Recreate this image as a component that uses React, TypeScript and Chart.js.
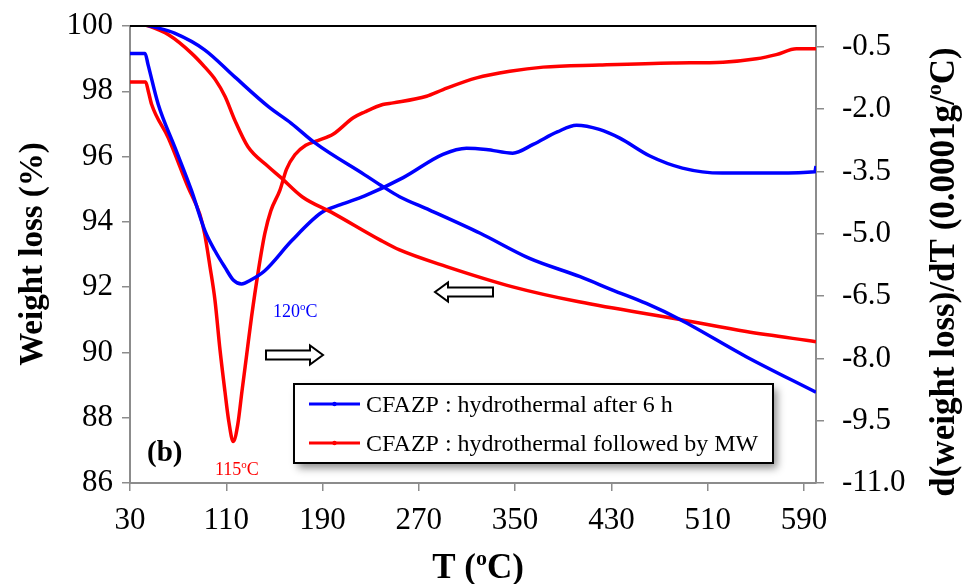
import { useEffect, useRef } from "react";
import { Chart, registerables } from "chart.js";

Chart.register(...registerables);

// ---------- data ----------
const xTickValues = [30, 110, 190, 270, 350, 430, 510, 590];
const leftTickValues = [86, 88, 90, 92, 94, 96, 98, 100];
const rightTickValues = [-11, -9.5, -8, -6.5, -5, -3.5, -2, -0.5];

// TG curves (weight loss %, left axis)
const tgBlueT = [40, 52, 67, 92, 117, 145, 164, 184, 225, 238, 254, 279, 321, 362, 404, 431, 459, 487, 542, 600];
const tgBlueW = [100.05, 99.95, 99.78, 99.27, 98.44, 97.53, 97.02, 96.41, 95.44, 95.13, 94.77, 94.36, 93.65, 92.88, 92.32, 91.91, 91.5, 91.01, 89.87, 88.78];

const tgRedT = [40, 47, 62, 81, 92, 101, 109, 117, 128, 145, 155, 173, 199, 238, 254, 293, 348, 403, 487, 542, 600];
const tgRedW = [100.05, 99.98, 99.73, 99.17, 98.75, 98.35, 97.84, 97.12, 96.3, 95.69, 95.37, 94.77, 94.26, 93.44, 93.14, 92.63, 92.01, 91.55, 91.01, 90.64, 90.33];

// DTG curves (right axis, 0.0001 g/°C)
const dtgBlueT = [30, 42.5, 45, 53.5, 67.4, 81.2, 92.3, 100.6, 108.9, 116, 122.8, 130, 142, 164.3, 189.2, 205, 225, 257, 290, 309.6, 326, 348, 365, 385, 401, 420, 437, 462, 489, 522, 567, 599, 600];
const dtgBlueR = [-0.66, -0.66, -0.93, -1.89, -2.93, -3.97, -4.93, -5.41, -5.81, -6.12, -6.21, -6.12, -5.89, -5.17, -4.49, -4.3, -4.09, -3.65, -3.09, -2.94, -2.97, -3.06, -2.85, -2.55, -2.39, -2.49, -2.7, -3.13, -3.42, -3.54, -3.54, -3.51, -3.37];

const dtgRedT = [30, 43, 45.2, 48, 61.8, 78.4, 88, 92, 96.5, 100.6, 104.8, 108.9, 112, 115.8, 119.5, 123, 127, 131, 136.6, 142, 147, 154.6, 160, 167, 176, 186, 199, 215.5, 225, 240, 248.7, 276.4, 290.2, 318, 345.6, 373.3, 420, 481, 522.8, 550.5, 567, 583.7, 600];
const dtgRedR = [-1.35, -1.35, -1.57, -1.89, -2.69, -3.89, -4.53, -5.0, -5.8, -6.6, -7.8, -8.8, -9.5, -10.0, -9.6, -8.8, -7.9, -7.0, -5.9, -5.0, -4.45, -3.95, -3.45, -3.1, -2.87, -2.76, -2.6, -2.21, -2.07, -1.89, -1.85, -1.69, -1.53, -1.25, -1.09, -0.99, -0.94, -0.89, -0.87, -0.79, -0.69, -0.55, -0.55];

const legendLabels = ["CFAZP : hydrothermal after 6 h", "CFAZP : hydrothermal followed by MW"];

const BLUE = "#0000ff";
const RED = "#ff0000";
const AXIS = "#8c8c8c";
const SERIF = '"Liberation Serif", "Times New Roman", serif';

type Part = { t: string; sup?: boolean };

function partFont(size: number, weight: string, sup?: boolean) {
  return `${weight} ${sup ? Math.round(size * 0.62) : size}px ${SERIF}`;
}

function drawRich(
  ctx: CanvasRenderingContext2D,
  parts: Part[],
  x: number,
  y: number,
  size: number,
  weight: string,
  color: string,
  align: "left" | "center"
) {
  let total = 0;
  const widths = parts.map((p) => {
    ctx.font = partFont(size, weight, p.sup);
    const w = ctx.measureText(p.t).width;
    total += w;
    return w;
  });
  let cx = align === "center" ? x - total / 2 : x;
  ctx.fillStyle = color;
  ctx.textAlign = "left";
  ctx.textBaseline = "alphabetic";
  parts.forEach((p, i) => {
    ctx.font = partFont(size, weight, p.sup);
    ctx.fillText(p.t, cx, p.sup ? y - size * 0.38 : y);
    cx += widths[i];
  });
}

function hollowArrow(ctx: CanvasRenderingContext2D, tailX: number, tipX: number, cy: number) {
  const shaftH = 4.5;
  const headH = 9.5;
  const headL = 13;
  const dir = Math.sign(tipX - tailX);
  const baseX = tipX - dir * headL;
  ctx.beginPath();
  ctx.moveTo(tailX, cy - shaftH);
  ctx.lineTo(baseX, cy - shaftH);
  ctx.lineTo(baseX, cy - headH);
  ctx.lineTo(tipX, cy);
  ctx.lineTo(baseX, cy + headH);
  ctx.lineTo(baseX, cy + shaftH);
  ctx.lineTo(tailX, cy + shaftH);
  ctx.closePath();
  ctx.fillStyle = "#fff";
  ctx.fill();
  ctx.strokeStyle = "#000";
  ctx.lineWidth = 2;
  ctx.stroke();
}

const overlay = {
  id: "overlay",
  afterDraw(chart: any) {
    const ctx: CanvasRenderingContext2D = chart.ctx;
    const a = chart.chartArea;
    ctx.save();

    // top frame line
    ctx.strokeStyle = "#000";
    ctx.lineWidth = 2;
    ctx.beginPath();
    ctx.moveTo(a.left, a.top);
    ctx.lineTo(a.right, a.top);
    ctx.stroke();

    // arrows
    hollowArrow(ctx, 266, 323, 355);
    hollowArrow(ctx, 493, 435, 292);

    // peak annotations
    drawRich(ctx, [{ t: "120" }, { t: "o", sup: true }, { t: "C" }], 273, 317, 18, "normal", BLUE, "left");
    drawRich(ctx, [{ t: "115" }, { t: "o", sup: true }, { t: "C" }], 215, 475, 18, "normal", RED, "left");
    drawRich(ctx, [{ t: "(b)" }], 147, 461, 29, "bold", "#000", "left");

    // legend box
    const lx = 294, ly = 384, lw = 479, lh = 79;
    ctx.save();
    ctx.shadowColor = "rgba(0,0,0,0.45)";
    ctx.shadowBlur = 8;
    ctx.shadowOffsetX = 4;
    ctx.shadowOffsetY = 5;
    ctx.fillStyle = "#fff";
    ctx.fillRect(lx, ly, lw, lh);
    ctx.restore();
    ctx.strokeStyle = "#000";
    ctx.lineWidth = 2;
    ctx.strokeRect(lx, ly, lw, lh);
    const rows = [
      { c: BLUE, y: 404 },
      { c: RED, y: 443 },
    ];
    rows.forEach((r, i) => {
      ctx.strokeStyle = r.c;
      ctx.lineWidth = 3;
      ctx.beginPath();
      ctx.moveTo(309, r.y);
      ctx.lineTo(360, r.y);
      ctx.stroke();
      ctx.fillStyle = r.c;
      ctx.beginPath();
      ctx.arc(334.5, r.y, 2.2, 0, Math.PI * 2);
      ctx.fill();
      drawRich(ctx, [{ t: legendLabels[i] }], 366, r.y + 8, 24, "normal", "#000", "left");
    });

    // axis titles
    drawRich(ctx, [{ t: "T (" }, { t: "o", sup: true }, { t: "C)" }], 478, 578, 35, "bold", "#000", "center");

    ctx.save();
    ctx.translate(42, 254);
    ctx.rotate(-Math.PI / 2);
    drawRich(ctx, [{ t: "Weight loss (%)" }], 0, 0, 33, "bold", "#000", "center");
    ctx.restore();

    ctx.save();
    ctx.translate(954, 272);
    ctx.rotate(-Math.PI / 2);
    drawRich(
      ctx,
      [{ t: "d(weight loss)/dT (0.0001g/" }, { t: "o", sup: true }, { t: "C)" }],
      0,
      0,
      35,
      "bold",
      "#000",
      "center"
    );
    ctx.restore();

    ctx.restore();
  },
};

function pts(xs: number[], ys: number[]) {
  return xs.map((x, i) => ({ x, y: ys[i] }));
}

export default function App() {
  const ref = useRef<HTMLCanvasElement>(null);

  useEffect(() => {
    const canvas = ref.current;
    if (!canvas) return;
    const tickFont = { family: SERIF, size: 31 };
    const chart = new Chart(canvas, {
      type: "line",
      data: {
        datasets: [
          { label: "TG blue", data: pts(tgBlueT, tgBlueW), borderColor: BLUE, yAxisID: "y" },
          { label: "TG red", data: pts(tgRedT, tgRedW), borderColor: RED, yAxisID: "y" },
          { label: legendLabels[0], data: pts(dtgBlueT, dtgBlueR), borderColor: BLUE, yAxisID: "y2" },
          { label: legendLabels[1], data: pts(dtgRedT, dtgRedR), borderColor: RED, yAxisID: "y2" },
        ],
      },
      options: {
        responsive: false,
        animation: false,
        layout: { padding: { top: 26, left: 0, right: 0, bottom: 0 } },
        plugins: { legend: { display: false }, tooltip: { enabled: false } },
        elements: {
          point: { radius: 0 },
          line: { borderWidth: 3.5, cubicInterpolationMode: "monotone", fill: false },
        },
        scales: {
          x: {
            type: "linear",
            min: 30,
            max: 600,
            afterBuildTicks: (s: any) => {
              s.ticks = xTickValues.map((v) => ({ value: v }));
            },
            afterFit: (s: any) => {
              s.height = 101;
              s.paddingLeft = 0;
              s.paddingRight = 0;
            },
            ticks: { font: tickFont, color: "#000", padding: 11, maxRotation: 0, autoSkip: false },
            grid: { drawOnChartArea: false, drawTicks: true, tickLength: 8, color: AXIS, lineWidth: 1.5 },
            border: { color: AXIS, width: 2 },
          },
          y: {
            type: "linear",
            position: "left",
            min: 86,
            max: 100,
            afterBuildTicks: (s: any) => {
              s.ticks = leftTickValues.map((v) => ({ value: v }));
            },
            afterFit: (s: any) => {
              s.width = 130;
              s.paddingTop = 0;
              s.paddingBottom = 0;
            },
            ticks: { font: tickFont, color: "#000", padding: 9, callback: (v: any) => String(v) },
            grid: { drawOnChartArea: false, drawTicks: true, tickLength: 8, color: AXIS, lineWidth: 1.5 },
            border: { color: AXIS, width: 2 },
          },
          y2: {
            type: "linear",
            position: "right",
            min: -11,
            max: 0,
            afterBuildTicks: (s: any) => {
              s.ticks = rightTickValues.map((v) => ({ value: v }));
            },
            afterFit: (s: any) => {
              s.width = 154;
              s.paddingTop = 0;
              s.paddingBottom = 0;
            },
            ticks: { font: tickFont, color: "#000", padding: 18, callback: (v: any) => Number(v).toFixed(1) },
            grid: { drawOnChartArea: false, drawTicks: true, tickLength: 8, color: AXIS, lineWidth: 1.5 },
            border: { color: AXIS, width: 2 },
          },
        },
      },
      plugins: [overlay],
    } as any);
    return () => chart.destroy();
  }, []);

  return (
    <div style={{ position: "fixed", left: 0, top: 0, width: 970, height: 584, background: "#fff" }}>
      <canvas ref={ref} width={970} height={584} style={{ width: 970, height: 584, display: "block" }} />
    </div>
  );
}
